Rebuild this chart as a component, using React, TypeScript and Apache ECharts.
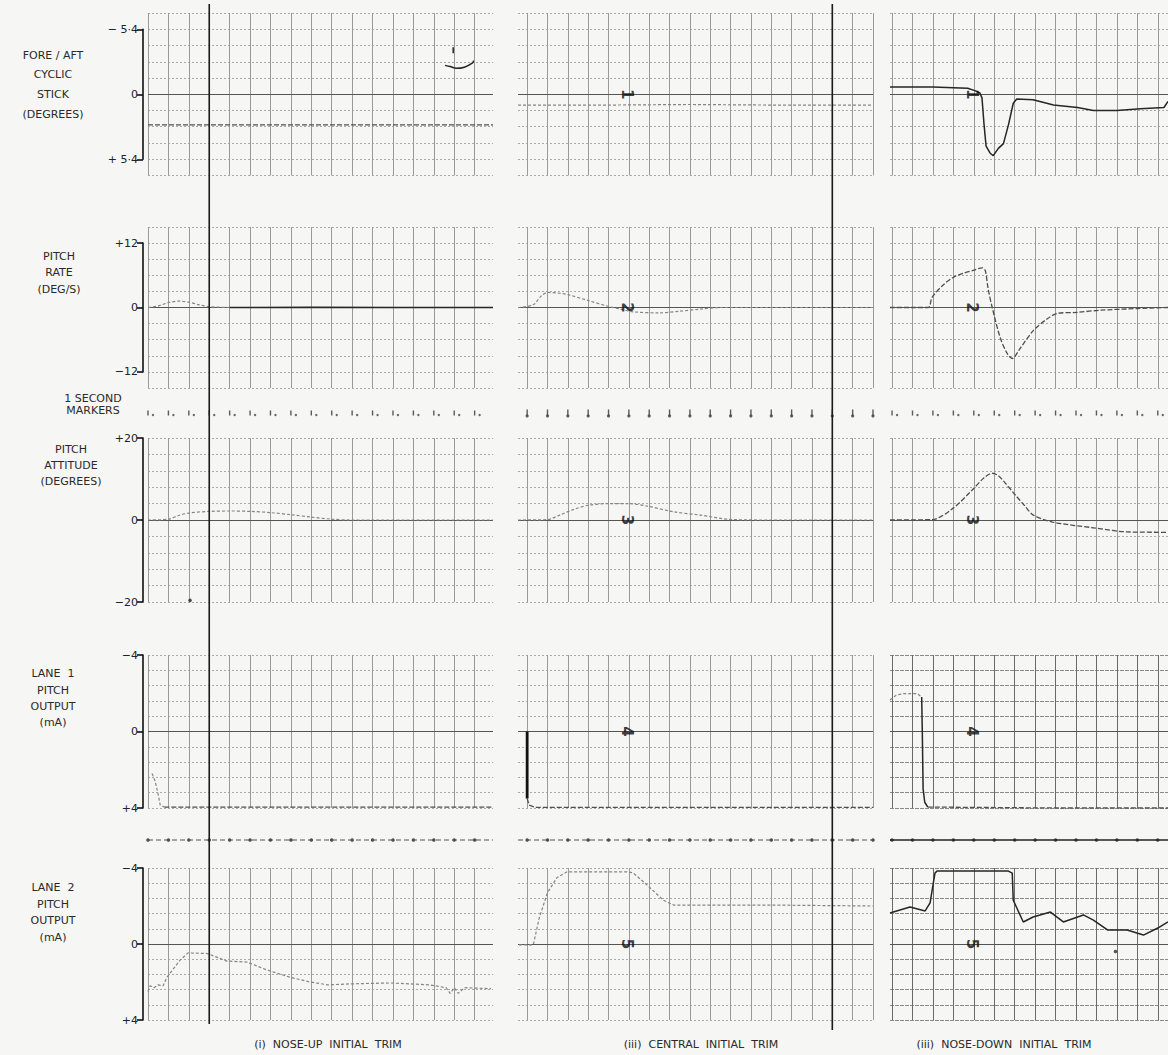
import React, { useEffect, useRef } from "react";
import * as echarts from "echarts";

type Pt = [number, number];

// ---------------- texts ----------------
const captions = ["(i)  NOSE-UP  INITIAL  TRIM", "(iii)  CENTRAL  INITIAL  TRIM", "(iii)  NOSE-DOWN  INITIAL  TRIM"];
const rowTitles = [
  ["FORE / AFT", "CYCLIC", "STICK", "(DEGREES)"],
  ["PITCH", "RATE", "(DEG/S)"],
  ["PITCH", "ATTITUDE", "(DEGREES)"],
  ["LANE  1", "PITCH", "OUTPUT", "(mA)"],
  ["LANE  2", "PITCH", "OUTPUT", "(mA)"],
];
const markerTitle = ["1 SECOND", "MARKERS"];
// bracket tick labels: [negative end, zero, positive end]
const stickTicks = ["\u2212 5\u00b74", "0", "+ 5\u00b74"];
const rateTicks = ["\u221212", "0", "+12"];
const attitudeTicks = ["\u221220", "0", "+20"];
const laneTicks = ["\u22124", "0", "+4"];
const channelDigits = ["1", "2", "3", "4", "5"];

// ---------------- time bases (1 second markers) ----------------
const secondsNoseUp = [0, 1, 2, 3, 4, 5, 6, 7, 8, 9, 10, 11, 12, 13, 14, 15, 16];
const secondsCentral = [0, 1, 2, 3, 4, 5, 6, 7, 8, 9, 10, 11, 12, 13, 14, 15, 16, 17];
const secondsNoseDown = [0, 1, 2, 3, 4, 5, 6, 7, 8, 9, 10, 11, 12, 13];
const eventSecond = [3, 15]; // heavy event lines (col 1, col 2)
const channelMarkSecond = [null, 4.9, 3.9];

// ---------------- row 1 : fore/aft cyclic stick (deg) ----------------
const stickNoseUp: Pt[] = [[0, 2.55], [4, 2.55], [8, 2.55], [12, 2.55], [16.9, 2.55]];
const stickNoseUpTrim: Pt[] = [[14.55, -2.4], [14.8, -2.3], [15.1, -2.15], [15.5, -2.25], [15.9, -2.6], [15.95, -2.8]];
const stickNoseUpPen: Pt[] = [[14.95, -3.9], [14.95, -3.4]];
const stickCentral: Pt[] = [[-0.45, 0.9], [4, 0.9], [8, 0.85], [12, 0.9], [17, 0.9]];
const stickNoseDown: Pt[] = [
  [-0.1, -0.6], [1, -0.6], [2, -0.6], [3, -0.55], [3.7, -0.5], [4.05, -0.3], [4.3, -0.1], [4.4, 0.3],
  [4.5, 2.5], [4.6, 4.3], [4.8, 4.9], [4.95, 5.1], [5.2, 4.5], [5.45, 4.1], [5.7, 2.5], [5.93, 0.75],
  [6.1, 0.4], [6.9, 0.45], [7.9, 0.9], [9.07, 1.1], [9.85, 1.35], [11, 1.35], [12.16, 1.2], [13.3, 1.1], [13.5, 0.6],
];

// ---------------- row 2 : pitch rate (deg/s) ----------------
const rateNoseUp: Pt[] = [[0, 0], [0.5, 0.3], [1, 0.9], [1.5, 1.2], [2, 1.0], [2.5, 0.5], [3, 0.15], [4, 0]];
const rateNoseUpSteady: Pt[] = [[4, 0], [8, 0.05], [12, 0], [16.9, 0]];
const rateCentral: Pt[] = [
  [-0.45, 0], [0.3, 0.5], [0.7, 2.2], [1.0, 2.8], [1.5, 2.7], [2, 2.4], [3, 1.3], [4, 0.2], [4.6, -0.3],
  [5.2, -0.8], [6.5, -1.0], [7.5, -0.7], [8.5, -0.3], [9.5, 0], [13, 0], [17, 0],
];
const rateNoseDown: Pt[] = [
  [-0.1, 0], [1.76, 0], [1.96, 1.9], [2.5, 4.2], [2.99, 5.6], [3.5, 6.4], [3.97, 6.9], [4.41, 7.4], [4.56, 6.9],
  [4.7, 3.5], [4.9, 0], [5.29, -5.6], [5.64, -8.6], [5.88, -9.5], [6.27, -7.6], [6.91, -4.3], [7.6, -2.1],
  [8.09, -1.1], [9.07, -0.9], [10.2, -0.5], [12, -0.2], [13.5, 0],
];

// ---------------- row 3 : pitch attitude (deg) ----------------
const attNoseUp: Pt[] = [
  [0, 0], [1, 0.2], [1.5, 1.1], [2, 1.7], [3, 2.1], [4, 2.2], [5, 2.1], [6, 1.8], [7, 1.3], [8, 0.7], [9, 0.2], [10, 0], [16.9, 0],
];
const attNoseUpDot: Pt[] = [[2.06, -19.6]];
const attCentral: Pt[] = [
  [-0.45, 0], [1, 0.1], [1.6, 1.2], [2.3, 2.6], [3, 3.6], [4, 4.0], [5, 4.0], [5.9, 3.4], [7.2, 2.0], [8.5, 1.2],
  [10.1, 0.1], [12, 0], [17, 0],
];
const attNoseDown: Pt[] = [
  [-0.1, 0], [1.96, 0.1], [2.99, 2.9], [3.92, 7.3], [4.5, 10.3], [4.9, 11.4], [5.2, 10.8], [5.54, 9.0], [6.03, 6.1],
  [6.5, 3.4], [6.91, 1.2], [7.84, -0.5], [9.85, -1.9], [11.5, -2.9], [13.5, -3.0],
];

// ---------------- row 4 : lane 1 pitch output (mA) ----------------
const laneOneNoseUpDrop: Pt[] = [[0.2, 2.2], [0.35, 2.6], [0.5, 3.3], [0.6, 3.85], [0.8, 3.95]];
const laneOneNoseUpFlat: Pt[] = [[0.8, 3.95], [8, 3.95], [16.9, 3.95]];
const laneOneCentralStep: Pt[] = [[0, 0], [0, 3.5]];
const laneOneCentralFlat: Pt[] = [[0, 3.5], [0.1, 3.85], [0.4, 3.97], [8, 3.97], [17, 3.97]];
const laneOneNoseDownStart: Pt[] = [[-0.1, -1.65], [0.2, -1.9], [0.54, -1.98], [1.23, -1.98], [1.45, -1.8]];
const laneOneNoseDownStep: Pt[] = [[1.45, -1.8], [1.48, 0], [1.52, 3.0], [1.6, 3.7], [1.75, 3.95]];
const laneOneNoseDownFlat: Pt[] = [[1.75, 3.95], [8, 4.0], [13.5, 4.0]];

// ---------------- row 5 : lane 2 pitch output (mA) ----------------
const laneTwoNoseUp: Pt[] = [
  [0, 2.5], [0.1, 2.2], [0.3, 2.3], [0.5, 2.15], [0.74, 2.2], [0.93, 1.75], [1.57, 0.85], [1.96, 0.47], [2.9, 0.5],
  [3.87, 0.9], [4.85, 0.95], [5.83, 1.37], [6.96, 1.75], [7.94, 2.0], [8.8, 2.15], [9.9, 2.1], [11.86, 2.05],
  [13.8, 2.15], [14.6, 2.3], [14.8, 2.6], [15.0, 2.3], [15.2, 2.6], [15.5, 2.3], [16.8, 2.35],
];
const laneTwoCentral: Pt[] = [
  [-0.4, 0.05], [0.3, 0.05], [0.6, -1.4], [1.0, -2.7], [1.47, -3.5], [1.97, -3.8], [3, -3.8], [4.9, -3.8],
  [5.2, -3.75], [5.9, -3.1], [6.7, -2.3], [7.2, -2.05], [8.5, -2.05], [12, -2.05], [17, -2.0],
];
const laneTwoNoseDown: Pt[] = [
  [-0.1, -1.63], [0.88, -1.95], [1.62, -1.74], [1.86, -2.16], [2.1, -3.73], [2.2, -3.84], [4, -3.84], [5.69, -3.84],
  [5.88, -3.73], [5.93, -2.3], [6.42, -1.16], [6.9, -1.42], [7.75, -1.68], [8.38, -1.16], [9.36, -1.53], [9.85, -1.26],
  [10.54, -0.74], [11.5, -0.74], [12.3, -0.47], [13.0, -0.84], [13.5, -1.16],
];
const laneTwoNoseDownDot: Pt[] = [[10.93, 0.4]];

// ---------------- layout & styles ----------------
const PAPER = "#f6f6f4";
const FONT = "DejaVu Sans";
const COLS = [
  { left: 148, width: 345, min: 0, max: 16.9, seconds: secondsNoseUp, caption: 328 },
  { left: 518, width: 355, min: -0.45, max: 17, seconds: secondsCentral, caption: 701 },
  { left: 890, width: 278, min: -0.1, max: 13.5, seconds: secondsNoseDown, caption: 1004 },
];
const ROWS = [
  { top: 13, height: 162.5, min: -6.75, max: 6.75, interval: 1.35, inverse: true, bracket: 5.4, ticks: stickTicks, tx: 53, ty: [55, 74, 94, 114] },
  { top: 227, height: 161, min: -15, max: 15, interval: 3, inverse: false, bracket: 12, ticks: rateTicks, tx: 59, ty: [256, 272, 289] },
  { top: 438, height: 164, min: -20, max: 20, interval: 4, inverse: false, bracket: 20, ticks: attitudeTicks, tx: 71, ty: [449, 465, 481] },
  { top: 655, height: 153, min: -4, max: 4, interval: 0.8, inverse: true, bracket: 4, ticks: laneTicks, tx: 53, ty: [673, 690, 706, 722] },
  { top: 868, height: 152, min: -4, max: 4, interval: 0.8, inverse: true, bracket: 4, ticks: laneTicks, tx: 53, ty: [887, 904, 920, 937] },
];
const MARKER_ROWS = [{ top: 406, height: 14 }, { top: 833, height: 14 }];

const STYLE: Record<string, any> = {
  faint: { color: "#858585", width: 1.2, type: [3, 2] },
  mid: { color: "#4f4f4f", width: 1.3, type: [5, 2] },
  dark: { color: "#262626", width: 1.5, type: "solid" },
  heavy: { color: "#111111", width: 2.8, type: "solid" },
};

type Trace = { data: Pt[]; style: string; smooth?: boolean; dot?: boolean };
const PANELS: Trace[][][] = [
  [
    [{ data: stickNoseUp, style: "mid" }, { data: stickNoseUpTrim, style: "dark", smooth: true }, { data: stickNoseUpPen, style: "dark" }],
    [{ data: stickCentral, style: "faint" }],
    [{ data: stickNoseDown, style: "dark" }],
  ],
  [
    [{ data: rateNoseUp, style: "faint", smooth: true }, { data: rateNoseUpSteady, style: "dark" }],
    [{ data: rateCentral, style: "faint", smooth: true }],
    [{ data: rateNoseDown, style: "mid", smooth: true }],
  ],
  [
    [{ data: attNoseUp, style: "faint", smooth: true }, { data: attNoseUpDot, style: "dark", dot: true }],
    [{ data: attCentral, style: "faint", smooth: true }],
    [{ data: attNoseDown, style: "mid", smooth: true }],
  ],
  [
    [{ data: laneOneNoseUpDrop, style: "faint" }, { data: laneOneNoseUpFlat, style: "mid" }],
    [{ data: laneOneCentralStep, style: "heavy" }, { data: laneOneCentralFlat, style: "mid" }],
    [{ data: laneOneNoseDownStart, style: "faint" }, { data: laneOneNoseDownStep, style: "dark" }, { data: laneOneNoseDownFlat, style: "mid" }],
  ],
  [
    [{ data: laneTwoNoseUp, style: "faint" }],
    [{ data: laneTwoCentral, style: "faint" }],
    [{ data: laneTwoNoseDown, style: "dark" }, { data: laneTwoNoseDownDot, style: "dark", dot: true }],
  ],
];

function buildOption() {
  const grid: any[] = [];
  const xAxis: any[] = [];
  const yAxis: any[] = [];
  const series: any[] = [];

  ROWS.forEach((row, r) => {
    COLS.forEach((col, c) => {
      const gi = grid.length;
      const darkGrid = c === 2 && r >= 3;
      grid.push({ left: col.left, top: row.top, width: col.width, height: row.height });
      xAxis.push({ gridIndex: gi, type: "value", min: col.min, max: col.max, show: false });
      yAxis.push({
        gridIndex: gi, type: "value", min: row.min, max: row.max, interval: row.interval, inverse: row.inverse,
        axisLine: { show: false }, axisTick: { show: false }, axisLabel: { show: false },
        splitLine: { show: true, lineStyle: { color: darkGrid ? "#8a8a8a" : "#a9a9a9", width: 1, type: darkGrid ? [4, 1] : [2, 2] } },
      });
      const vColor = darkGrid ? "#6a6a6a" : "#9a9a9a";
      PANELS[r][c].forEach((t, k) => {
        const s: any = t.dot
          ? {
              type: "scatter", xAxisIndex: gi, yAxisIndex: gi, data: t.data, symbol: "circle", symbolSize: 3.5,
              itemStyle: { color: STYLE[t.style].color }, silent: true, z: 6,
            }
          : {
              type: "line", xAxisIndex: gi, yAxisIndex: gi, data: t.data, showSymbol: false, smooth: t.smooth ? 0.3 : false,
              lineStyle: STYLE[t.style], silent: true, z: 5,
            };
        if (k === 0) {
          s.markLine = {
            silent: true, symbol: ["none", "none"], label: { show: false }, animation: false,
            data: [
              ...col.seconds.map((sec) => ({ xAxis: sec, lineStyle: { color: vColor, width: 1, type: "solid" } })),
              { yAxis: 0, lineStyle: { color: "#555", width: 1.2, type: "solid" } },
            ],
          };
        }
        series.push(s);
      });
      const markAt = channelMarkSecond[c];
      if (markAt !== null) {
        series.push({
          type: "scatter", xAxisIndex: gi, yAxisIndex: gi, data: [[markAt, 0]], symbolSize: 1, silent: true, z: 7,
          itemStyle: { color: "transparent" },
          label: { show: true, position: "inside", formatter: channelDigits[r], rotate: -90, fontSize: 15, fontWeight: 900, color: "#0d0d0d", fontFamily: FONT },
        });
      }
    });
  });

  // second-marker strips
  MARKER_ROWS.forEach((mr, m) => {
    COLS.forEach((col, c) => {
      const gi = grid.length;
      grid.push({ left: col.left, top: mr.top, width: col.width, height: mr.height });
      xAxis.push({ gridIndex: gi, type: "value", min: col.min, max: col.max, show: false });
      yAxis.push({ gridIndex: gi, type: "value", min: 0, max: 1, show: false });
      const pts = col.seconds.map((s) => [s, 0.5]);
      if (m === 0) {
        series.push({
          type: "scatter", xAxisIndex: gi, yAxisIndex: gi, data: pts, symbol: "rect", symbolSize: [1.4, c === 1 ? 7 : 5],
          itemStyle: { color: "#333" }, silent: true,
        });
        series.push({
          type: "scatter", xAxisIndex: gi, yAxisIndex: gi, data: pts, symbol: "circle", symbolSize: c === 1 ? 3.2 : 2.4,
          symbolOffset: c === 1 ? [0, 3] : [5, 2], itemStyle: { color: "#444" }, silent: true,
        });
      } else {
        series.push({
          type: "line", xAxisIndex: gi, yAxisIndex: gi, data: [[col.min, 0.5], [col.max, 0.5]], showSymbol: false,
          lineStyle: { color: c === 2 ? "#222" : "#555", width: c === 2 ? 1.6 : 1.1, type: c === 2 ? "solid" : [5, 3] },
          silent: true,
        });
        series.push({
          type: "scatter", xAxisIndex: gi, yAxisIndex: gi, data: pts, symbol: "circle", symbolSize: 3.5,
          itemStyle: { color: "#222" }, silent: true,
        });
      }
    });
  });

  // left brackets (scale indicators)
  ROWS.forEach((row) => {
    const gi = grid.length;
    const span = row.max - row.min;
    const top = row.top + ((row.max - row.bracket) / span) * row.height;
    const height = ((2 * row.bracket) / span) * row.height;
    grid.push({ left: 143, top, width: 1, height });
    xAxis.push({ gridIndex: gi, type: "value", min: 0, max: 1, show: false });
    yAxis.push({
      gridIndex: gi, type: "value", min: -row.bracket, max: row.bracket, interval: row.bracket, inverse: row.inverse,
      axisLine: { show: true, lineStyle: { color: "#111", width: 1.6 } },
      axisTick: { show: true, length: 6, lineStyle: { color: "#111", width: 1.6 } },
      splitLine: { show: false },
      axisLabel: {
        show: true, margin: 5, fontSize: 11, color: "#222", fontFamily: FONT,
        formatter: (v: number) => (v === 0 ? row.ticks[1] : v < 0 ? row.ticks[0] : row.ticks[2]),
      },
    });
  });

  return {
    animation: false,
    backgroundColor: PAPER,
    textStyle: { fontFamily: FONT },
    grid, xAxis, yAxis, series,
  };
}

function textGraphics(): any[] {
  const out: any[] = [];
  const ts = (text: string, x: number, y: number) => ({
    type: "text", x, y, silent: true,
    style: { text, fill: "#2a2a2a", font: `11px "${FONT}"`, align: "center", verticalAlign: "middle" },
  });
  ROWS.forEach((row, r) => rowTitles[r].forEach((line, i) => out.push(ts(line, row.tx, row.ty[i]))));
  markerTitle.forEach((line, i) => out.push(ts(line, 93, [398, 410][i])));
  COLS.forEach((col, c) => out.push(ts(captions[c], col.caption, 1044)));
  return out;
}

export default function App() {
  const ref = useRef<HTMLDivElement>(null);
  useEffect(() => {
    document.body.style.margin = "0";
    const chart = echarts.init(ref.current!, null, { renderer: "svg" });
    chart.setOption(buildOption());
    const lines: any[] = [];
    eventSecond.forEach((sec, c) => {
      const topPt = chart.convertToPixel({ gridIndex: c }, [sec, ROWS[0].min]) as number[];
      const botPt = chart.convertToPixel({ gridIndex: 12 + c }, [sec, ROWS[4].max]) as number[];
      lines.push({
        type: "line", silent: true, z: 20,
        shape: { x1: topPt[0], y1: topPt[1] - 9, x2: topPt[0], y2: botPt[1] + 4 + c * 6 },
        style: { stroke: "#1a1a1a", lineWidth: 1.6 },
      });
    });
    chart.setOption({ graphic: [...textGraphics(), ...lines] });
    return () => chart.dispose();
  }, []);
  return <div ref={ref} style={{ width: 1168, height: 1055, background: PAPER }} />;
}
